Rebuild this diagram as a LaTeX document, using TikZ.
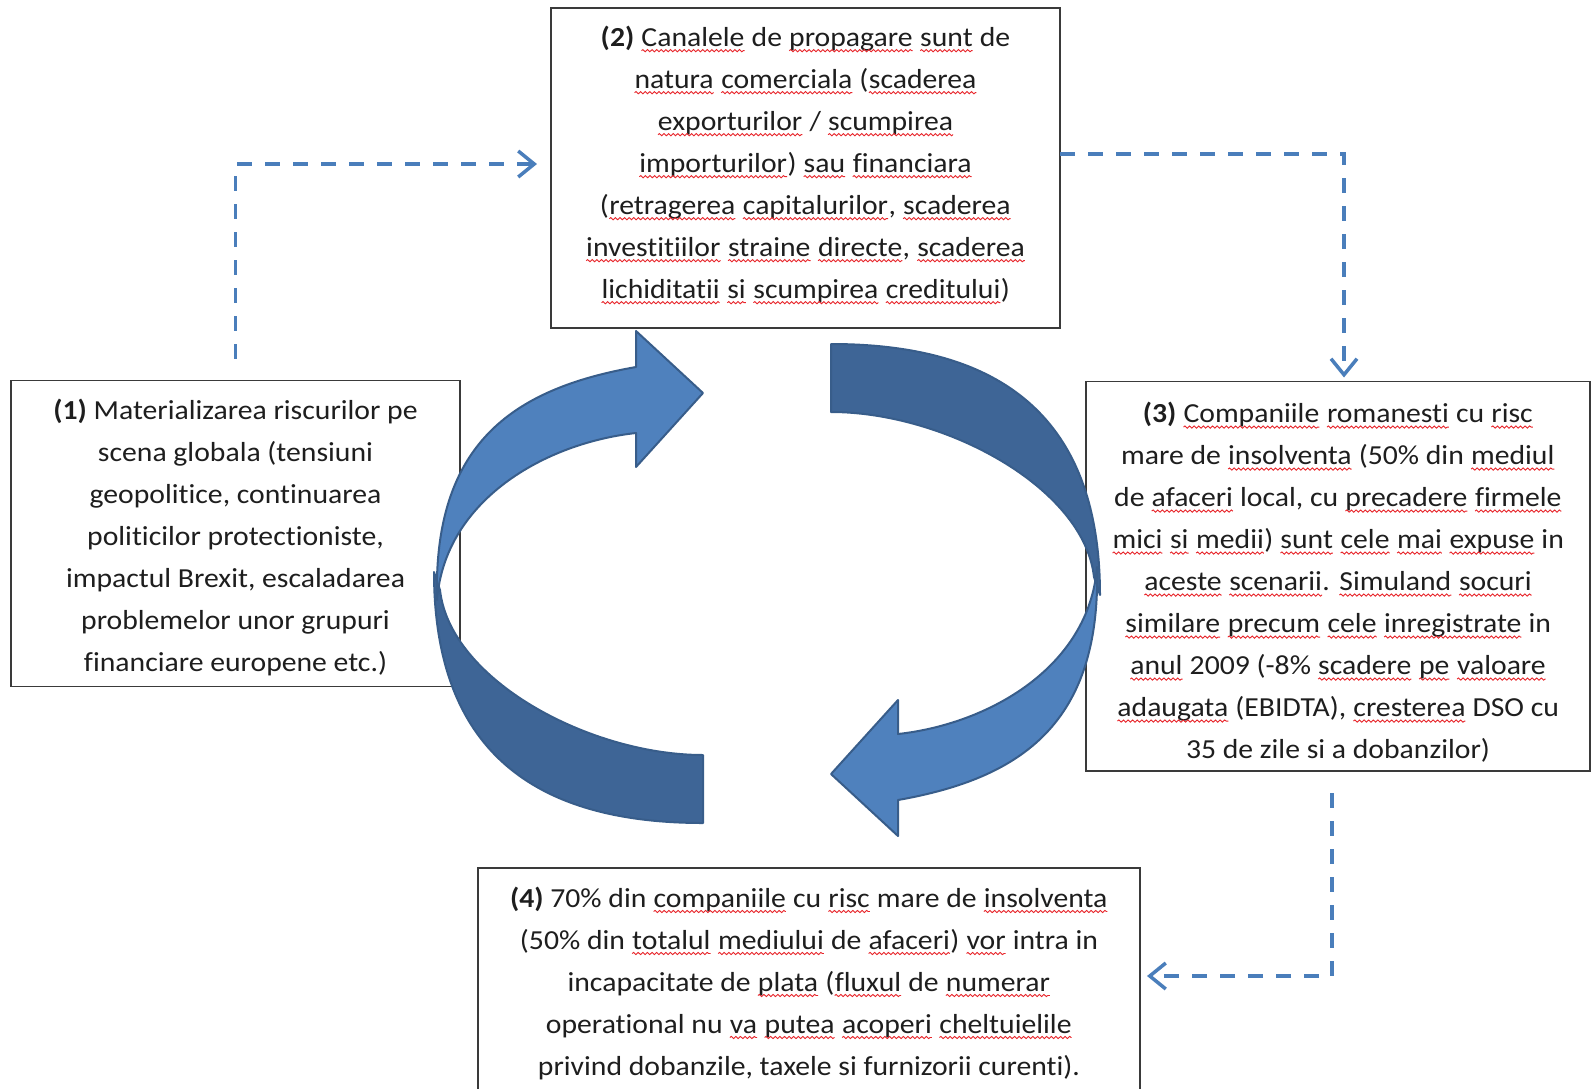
\documentclass[tikz,border=0pt]{standalone}
\usepackage{fontspec}
\setmainfont{Carlito}[FakeStretch=1.08, Ligatures=NoCommon]
\usetikzlibrary{arrows.meta,decorations.pathmorphing}
\definecolor{frontblue}{HTML}{4F81BD}
\definecolor{backblue}{HTML}{3E6596}
\definecolor{edgeblue}{HTML}{385D8A}
\definecolor{dashblue}{HTML}{4A7EBB}
\definecolor{boxline}{HTML}{3A3A3A}
\definecolor{spellred}{HTML}{E8252B}
\definecolor{textcol}{HTML}{1E1E1E}
\tikzset{wordnode/.style={shape=rectangle, inner sep=0pt, outer sep=0pt, minimum width=0pt,
    minimum height=0pt, draw=none, fill=none, align=none, anchor=center,
    font=\fontsize{27.5}{42}\selectfont},
  wave/.style={draw=spellred, line width=0.9pt, decorate,
    decoration={snake, amplitude=1.1pt, segment length=4.6pt}}}
\newcommand\sq[1]{\tikz[baseline=(w.base),x=1pt,y=1pt]{%
  \node[wordnode] (w) {#1};
  \draw[wave] ([yshift=-4.5pt]w.base west) -- ([yshift=-4.5pt]w.base east);}}
\begin{document}
\begin{tikzpicture}[x=1pt,y=-1pt,
  box/.style={draw=boxline, line width=1.8pt, fill=white, inner sep=0pt, outer sep=0pt},
  txt/.style={align=center, inner sep=0pt, outer sep=0pt, text=textcol,
              font=\fontsize{27.5}{42}\selectfont},
  dasharrow/.style={draw=dashblue, line width=3.5pt, dash pattern=on 15pt off 13pt,
              -{Straight Barb[length=16pt,width=26pt,line width=3.5pt]}},
  frontband/.style={fill=frontblue, draw=edgeblue, line width=2pt, line join=round},
  backband/.style={fill=backblue, draw=edgeblue, line width=2pt, line join=round}]
\useasboundingbox (0,0) rectangle (1591,1088);

% boxes
\node[box, minimum width=449pt, minimum height=306pt] (b1) at (235.5,533.5) {};
\node[box, minimum width=509pt, minimum height=320pt] (b2) at (805.5,168) {};
\node[box, minimum width=504pt, minimum height=389.5pt] (b3) at (1338,576.25) {};
\node[box, minimum width=662pt, minimum height=228pt] (b4) at (809,982) {};

% texts
\node[txt] (t1) at (235.5,537.5) {%
\textbf{(1)} Materializarea riscurilor pe\\
scena globala (tensiuni\\
geopolitice, continuarea\\
politicilor protectioniste,\\
impactul Brexit, escaladarea\\
problemelor unor grupuri\\
financiare europene etc.)};

\node[txt] (t2) at (805.5,165) {%
\textbf{(2)} \sq{Canalele} de \sq{propagare} \sq{sunt} de\\
\sq{natura} \sq{comerciala} (\sq{scaderea}\\
\sq{exporturilor} / \sq{scumpirea}\\
\sq{importurilor}) \sq{sau} \sq{financiara}\\
(\sq{retragerea} \sq{capitalurilor}, \sq{scaderea}\\
\sq{investitiilor} \sq{straine} \sq{directe}, \sq{scaderea}\\
\sq{lichiditatii} \sq{si} \sq{scumpirea} \sq{creditului})};

\node[txt] (t3) at (1338,582.25) {%
\textbf{(3)} \sq{Companiile} \sq{romanesti} cu \sq{risc}\\
mare de \sq{insolventa} (50\% din \sq{mediul}\\
de \sq{afaceri} local, cu \sq{precadere} \sq{firmele}\\
\sq{mici} \sq{si} \sq{medii}) \sq{sunt} \sq{cele} \sq{mai} \sq{expuse} in\\
\sq{aceste} \sq{scenarii}. \sq{Simuland} \sq{socuri}\\
\sq{similare} \sq{precum} \sq{cele} \sq{inregistrate} in\\
\sq{anul} 2009 (-8\% \sq{scadere} \sq{pe} \sq{valoare}\\
\sq{adaugata} (EBIDTA), \sq{cresterea} DSO cu\\
35 de zile si a dobanzilor)};

\node[txt] (t4) at (809,983) {%
\textbf{(4)} 70\% din \sq{companiile} cu \sq{risc} mare de \sq{insolventa}\\
(50\% din \sq{totalul} \sq{mediului} de \sq{afaceri}) \sq{vor} intra in\\
incapacitate de \sq{plata} (\sq{fluxul} de \sq{numerar}\\
operational nu \sq{va} \sq{putea} \sq{acoperi} \sq{cheltuielile}\\
privind dobanzile, taxele si furnizorii curenti).};

% dashed connectors
\draw[dasharrow] ([yshift=22pt]b1.north) |- ([xshift=-14pt,yshift=4pt]b2.west);
\draw[dasharrow] ([yshift=14pt]b2.east) -| ([xshift=6pt,yshift=4pt]b3.north);
\draw[dasharrow] ([xshift=-6pt,yshift=-22pt]b3.south) |- ([xshift=7pt,yshift=6pt]b4.east);

% left curved arrow
\filldraw[backband] (434,572) .. controls (434,760) and (545,823) .. (703,823)
  -- (703,755) .. controls (590,755) and (450,680) .. (440,590) -- cycle;
\filldraw[frontband] (437,600) .. controls (433,445) and (511,389) .. (636,367)
  -- (636,331) -- (703,393) -- (636,467) -- (636,433)
  .. controls (545,443) and (445,500) .. (437,600) -- cycle;

% right curved arrow (same shape turned half round)
\begin{scope}[shift={(1534,1167)}, xscale=-1, yscale=-1]
\filldraw[backband] (434,572) .. controls (434,760) and (545,823) .. (703,823)
  -- (703,755) .. controls (590,755) and (450,680) .. (440,590) -- cycle;
\filldraw[frontband] (437,600) .. controls (433,445) and (511,389) .. (636,367)
  -- (636,331) -- (703,393) -- (636,467) -- (636,433)
  .. controls (545,443) and (445,500) .. (437,600) -- cycle;
\end{scope}
\end{tikzpicture}
\end{document}
